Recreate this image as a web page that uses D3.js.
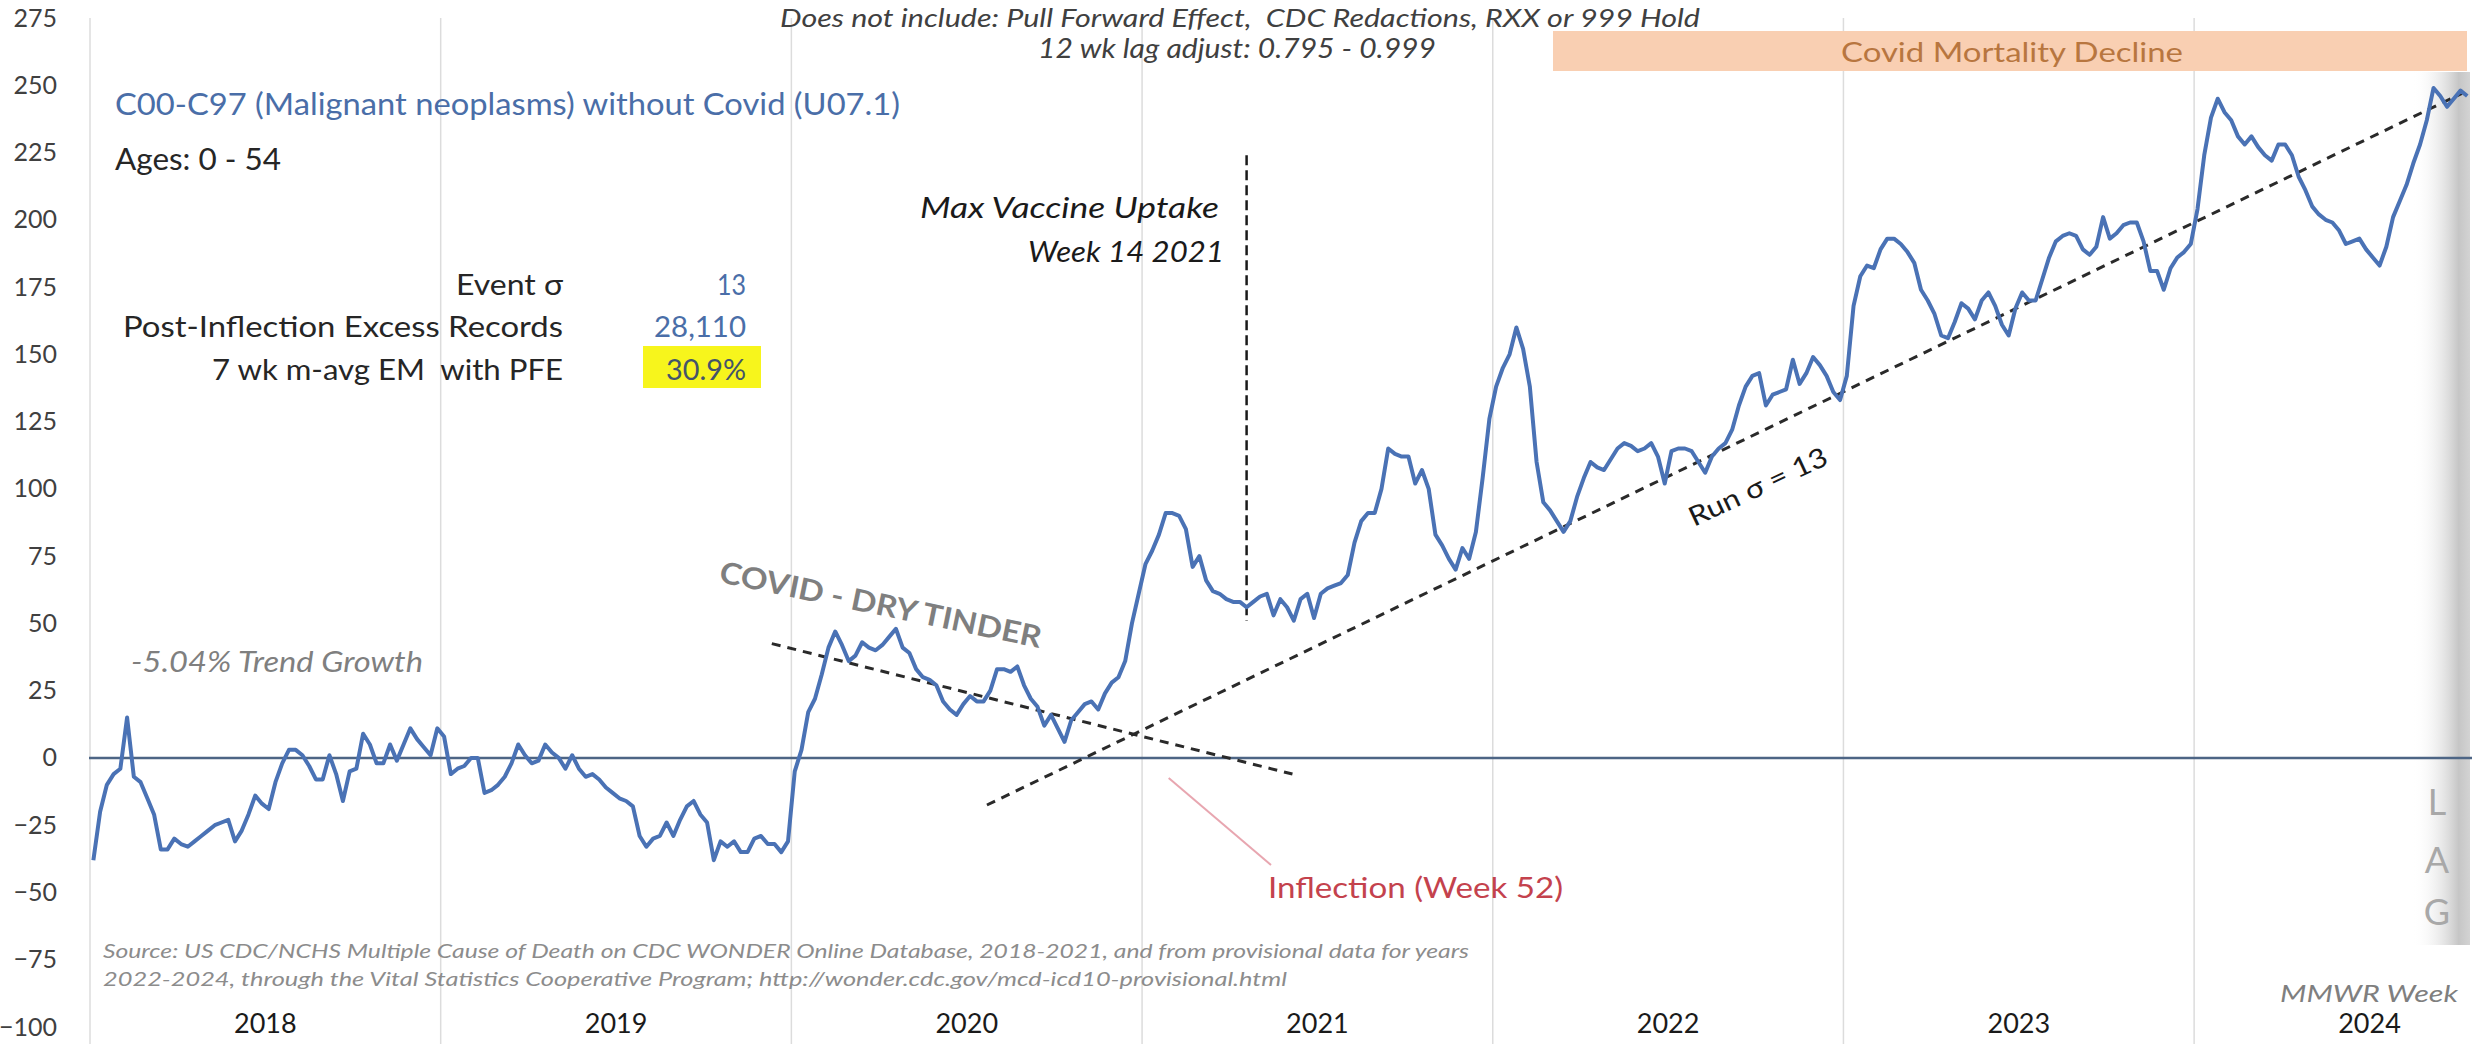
<!DOCTYPE html>
<html>
<head>
<meta charset="utf-8">
<script src="https://cdn.jsdelivr.net/npm/d3@7"></script>
<style>
  body { margin: 0; background: #fff; }
  svg text { font-family: Lato, "Noto Sans", sans-serif; white-space: pre; }
</style>
</head>
<body>
<script>
// weekly excess (MMWR weeks), one array per year
const years = ["2018", "2019", "2020", "2021", "2022", "2023", "2024"];
const weeksPerYear = 52;

const y2018 = [-38,-20,-10,-6,-4,15,-7,-9,-15,-21,-34,-34,-30,-32,-33,-31,-29,-27,-25,-24,-23,-31,-27,-21,-14,-17,
  -19,-9,-2,3,3,1,-3,-8,-8,1,-6,-16,-5,-4,9,5,-2,-2,5,-1,5,11,7,4,1,11];
const y2019 = [8,-6,-4,-3,0,0,-13,-12,-10,-7,-2,5,1,-2,-1,5,2,0,-4,1,-4,-7,-6,-8,-11,-13,
  -15,-16,-18,-29,-33,-30,-29,-24,-29,-23,-18,-16,-21,-24,-38,-31,-33,-31,-35,-35,-30,-29,-32,-32,-35,-31];
const y2020 = [-5,3,17,22,31,41,47,42,36,38,43,41,40,42,45,48,41,39,33,30,29,27,21,18,16,20,
  23,21,21,25,33,33,32,34,27,22,19,12,16,11,6,14,17,20,21,18,24,28,30,36,50,61];
const y2021 = [72,77,83,91,91,90,85,71,75,66,62,61,59,58,58,56,58,60,61,53,59,56,51,59,61,52,
  61,63,64,65,68,80,88,91,91,100,115,113,112,112,102,107,100,83,79,74,70,78,74,84,104,126];
const y2022 = [138,145,150,160,152,138,110,95,92,88,84,88,97,104,110,108,107,111,115,117,116,114,115,117,112,102,
  114,115,115,114,110,106,112,115,117,122,131,138,142,143,131,135,136,137,148,139,143,149,146,142,136,133];
const y2023 = [142,168,179,183,182,189,193,193,191,188,184,174,170,165,157,156,162,169,167,163,170,173,168,161,157,167,
  173,170,170,178,186,192,194,195,194,189,187,190,201,193,195,198,199,199,192,181,181,174,182,186,188,191];
const y2024 = [204,224,238,245,240,237,231,228,231,227,224,222,228,228,224,216,211,205,202,200,199,196,191,192,193,189,
  186,183,190,201,207,213,221,228,237,249,246,242,245,248,246];

const yTicks = [-100, -75, -50, -25, 0, 25, 50, 75, 100, 125, 150, 175, 200, 225, 250, 275];

// trend lines, in week index / value
const tinderTrend = [{ w: 100.6, v: 42.5 }, { w: 177.8, v: -6 }];
const runTrend = [{ w: 132.5, v: -17.5 }, { w: 351.2, v: 247 }];
const vaccineWeek = 171;
const vaccineSpan = [51, 224];
const inflection = { w: 155, v: 9 };

const statLabels = ["Event σ", "Post-Inflection Excess Records", "7 wk m-avg EM  with PFE"];
const statValues = ["13", "28,110", "30.9%"];

const series = [].concat(y2018, y2019, y2020, y2021, y2022, y2023, y2024).map((v, i) => ({ w: i, v: v }));

const W = 2476, H = 1044;
const svg = d3.select("body").append("svg").attr("width", W).attr("height", H);

const x = d3.scaleLinear().domain([-0.5, years.length * weeksPerYear - 0.5]).range([90, 90 + 364 * 6.744]);
const y = d3.scaleLinear().domain([-100, 275]).range([1027, 18]);
const yearBand = d3.scaleBand().domain(years).range(x.domain().map(x)).padding(0);

const defs = svg.append("defs");
const lagGrad = defs.append("linearGradient").attr("id", "lag").attr("x1", 0).attr("x2", 1).attr("y1", 0).attr("y2", 0);
lagGrad.append("stop").attr("offset", "0%").attr("stop-color", "#ffffff").attr("stop-opacity", 0);
lagGrad.append("stop").attr("offset", "80%").attr("stop-color", "#c6c6c6");
lagGrad.append("stop").attr("offset", "100%").attr("stop-color", "#d3d3d3");

// year separators
svg.append("g").selectAll("line")
  .data(years).enter().append("line")
  .attr("x1", d => yearBand(d)).attr("x2", d => yearBand(d))
  .attr("y1", 18).attr("y2", H)
  .style("stroke", "#dcdcdc").style("stroke-width", 1.5);

// LAG band
svg.append("rect").attr("x", 2413).attr("y", 72).attr("width", 57).attr("height", 873).attr("fill", "url(#lag)");
svg.selectAll("text.lag").data(["L", "A", "G"]).enter().append("text")
  .attr("class", "lag")
  .attr("x", 2437).attr("y", (d, i) => [815, 873, 925][i])
  .attr("text-anchor", "middle").attr("font-size", 36).attr("fill", "#a8a8a8")
  .text(d => d);

// Covid Mortality Decline bar
svg.append("rect").attr("x", 1553).attr("y", 31).attr("width", 914).attr("height", 40).attr("fill", "#f9cfb2");

// y axis labels
const yAxis = svg.append("g").attr("transform", "translate(57,0)")
  .call(d3.axisLeft(y).tickValues(yTicks).tickSize(0).tickPadding(0));
yAxis.select(".domain").remove();
yAxis.selectAll("text").attr("font-size", 25).attr("fill", "#404040").style("font-family", "Lato, sans-serif");

// year labels
const xAxis = svg.append("g").attr("transform", "translate(0,1010)")
  .call(d3.axisBottom(yearBand).tickSize(0).tickPadding(0));
xAxis.select(".domain").remove();
xAxis.selectAll("text").attr("font-size", 27).attr("fill", "#1a1a1a").attr("dy", 0).attr("y", 23)
  .style("font-family", "Lato, sans-serif");

// zero line
svg.append("line").attr("x1", 89).attr("x2", 2472).attr("y1", y(0)).attr("y2", y(0))
  .style("stroke", "#4d6585").style("stroke-width", 2.5);

const trendLine = d3.line().x(d => x(d.w)).y(d => y(d.v));

// dashed trends
svg.append("path").datum(tinderTrend).attr("d", trendLine)
  .style("fill", "none").style("stroke", "#2a2a2a").style("stroke-width", 3).style("stroke-dasharray", "9,7");
svg.append("path").datum(runTrend).attr("d", trendLine)
  .style("fill", "none").style("stroke", "#2a2a2a").style("stroke-width", 3).style("stroke-dasharray", "9,7");
svg.append("line")
  .attr("x1", x(vaccineWeek)).attr("x2", x(vaccineWeek))
  .attr("y1", y(vaccineSpan[1])).attr("y2", y(vaccineSpan[0]))
  .style("stroke", "#1a1a1a").style("stroke-width", 2.5).style("stroke-dasharray", "10,5");

// inflection pointer
svg.append("line").attr("x1", x(inflection.w) + 30).attr("y1", 778).attr("x2", 1271).attr("y2", 865)
  .style("stroke", "#e8a6b0").style("stroke-width", 2);

// main series
svg.append("path").datum(series)
  .attr("d", d3.line().x(d => x(d.w)).y(d => y(d.v)))
  .style("fill", "none").style("stroke", "#4a72b5").style("stroke-width", 4)
  .style("stroke-linejoin", "round");

// text helper: start x, baseline y, fitted width
function note(str, x0, y0, len, size, fill, opts) {
  opts = opts || {};
  const t = svg.append("text")
    .attr("x", x0).attr("y", y0)
    .attr("font-size", size).attr("fill", fill)
    .attr("textLength", len).attr("lengthAdjust", "spacingAndGlyphs")
    .text(str);
  if (opts.italic) t.attr("font-style", "italic");
  if (opts.bold) t.attr("font-weight", "bold");
  if (opts.rotate) t.attr("transform", `rotate(${opts.rotate},${x0},${y0})`);
  return t;
}

note("Does not include: Pull Forward Effect,  CDC Redactions, RXX or 999 Hold", 780, 27, 920, 26, "#404040", { italic: true });
note("12 wk lag adjust: 0.795 - 0.999", 1038, 58, 398, 27, "#404040", { italic: true });
note("Covid Mortality Decline", 1841, 62, 342, 27, "#b8763f");

note("C00-C97 (Malignant neoplasms) without Covid (U07.1)", 115, 115, 785, 31, "#4a6ea8");
note("Ages: 0 - 54", 115, 170, 166, 30, "#262626");

// stats block
const statY = [295, 337, 380];
const statLen = [107, 440, 351];
const valLen = [29, 92, 80];
svg.append("rect").attr("x", 643).attr("y", 346).attr("width", 118).attr("height", 42).attr("fill", "#f7f51c");
statLabels.forEach((s, i) => note(s, 563 - statLen[i], statY[i], statLen[i], 28, "#262626"));
statValues.forEach((s, i) => note(s, 746 - valLen[i], statY[i], valLen[i], 28, i < 2 ? "#4a6ea8" : "#44546a"));

note("Max Vaccine Uptake", 920, 218, 299, 28, "#1a1a1a", { italic: true });
note("Week 14 2021", 1028, 262, 196, 28, "#1a1a1a", { italic: true });

note("COVID - DRY TINDER", 718, 582, 328, 30, "#7f7f7f", { bold: true, rotate: 11.6 });
note("Run σ = 13", 1694, 527, 150, 27, "#1a1a1a", { rotate: -25 });
note("-5.04% Trend Growth", 131, 672, 292, 29, "#7f7f7f", { italic: true });
note("Inflection (Week 52)", 1268, 898, 295, 28, "#c4424d");

note("Source: US CDC/NCHS Multiple Cause of Death on CDC WONDER Online Database, 2018-2021, and from provisional data for years",
  103, 958, 1366, 19, "#8c8c8c", { italic: true });
note("2022-2024, through the Vital Statistics Cooperative Program; http://wonder.cdc.gov/mcd-icd10-provisional.html",
  103, 986, 1184, 19, "#8c8c8c", { italic: true });
note("MMWR Week", 2280, 1002, 178, 24, "#7f7f7f", { italic: true });
</script>
</body>
</html>
